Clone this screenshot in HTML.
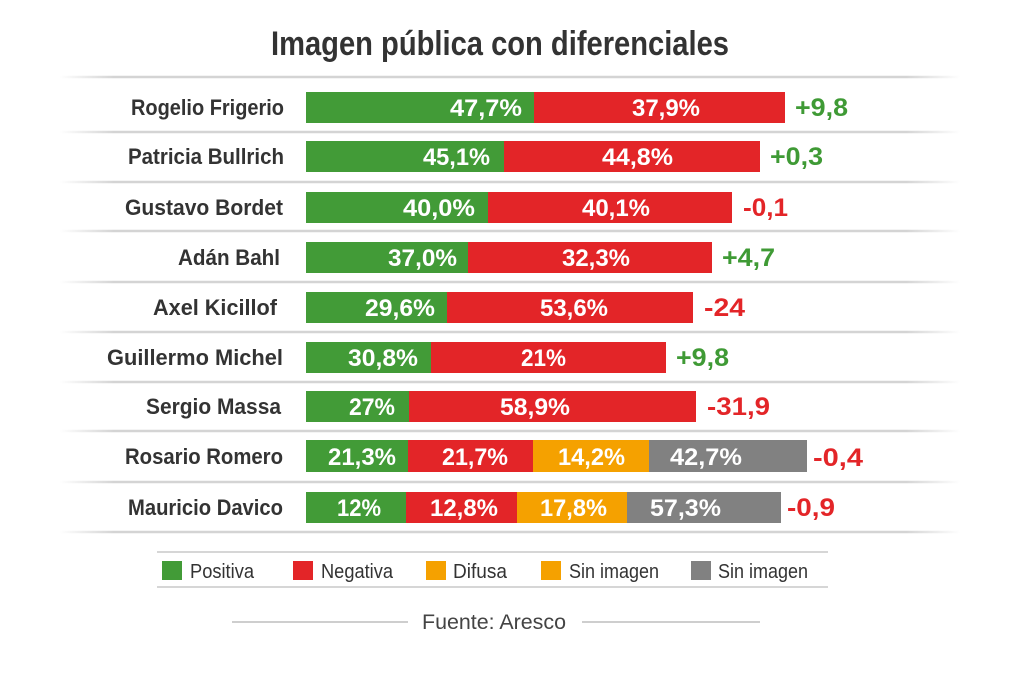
<!DOCTYPE html>
<html>
<head>
<meta charset="utf-8">
<style>
html,body{margin:0;padding:0;background:#ffffff;}
svg{display:block;}
text{font-family:"Liberation Sans",sans-serif;}
</style>
</head>
<body>
<svg width="1024" height="683" viewBox="0 0 1024 683" xmlns="http://www.w3.org/2000/svg">
<defs>
<linearGradient id="sep" x1="60" y1="0" x2="960" y2="0" gradientUnits="userSpaceOnUse">
<stop offset="0" stop-color="#d4d4d4" stop-opacity="0"/>
<stop offset="0.06" stop-color="#d4d4d4" stop-opacity="1"/>
<stop offset="0.94" stop-color="#d4d4d4" stop-opacity="1"/>
<stop offset="1" stop-color="#d4d4d4" stop-opacity="0"/>
</linearGradient>
</defs>
<rect width="1024" height="683" fill="#ffffff"/>

<!-- Title -->
<text x="271" y="55" font-size="34" font-weight="bold" fill="#333333" textLength="458" lengthAdjust="spacingAndGlyphs">Imagen pública con diferenciales</text>

<!-- Separators -->
<g stroke="url(#sep)" stroke-width="2.5">
<line x1="60" y1="77" x2="960" y2="77"/>
<line x1="60" y1="132" x2="960" y2="132"/>
<line x1="60" y1="182" x2="960" y2="182"/>
<line x1="60" y1="231" x2="960" y2="231"/>
<line x1="60" y1="282" x2="960" y2="282"/>
<line x1="60" y1="332" x2="960" y2="332"/>
<line x1="60" y1="382" x2="960" y2="382"/>
<line x1="60" y1="431" x2="960" y2="431"/>
<line x1="60" y1="482" x2="960" y2="482"/>
<line x1="60" y1="532" x2="960" y2="532"/>
</g>

<!-- Names -->
<g font-size="22" font-weight="bold" fill="#333333" text-anchor="end">
<text x="284" y="115" textLength="153" lengthAdjust="spacingAndGlyphs">Rogelio Frigerio</text>
<text x="284" y="164" textLength="156" lengthAdjust="spacingAndGlyphs">Patricia Bullrich</text>
<text x="283" y="215" textLength="158" lengthAdjust="spacingAndGlyphs">Gustavo Bordet</text>
<text x="280" y="265" textLength="102" lengthAdjust="spacingAndGlyphs">Adán Bahl</text>
<text x="277" y="315" textLength="124" lengthAdjust="spacingAndGlyphs">Axel Kicillof</text>
<text x="283" y="365" textLength="176" lengthAdjust="spacingAndGlyphs">Guillermo Michel</text>
<text x="281" y="414" textLength="135" lengthAdjust="spacingAndGlyphs">Sergio Massa</text>
<text x="283" y="464" textLength="158" lengthAdjust="spacingAndGlyphs">Rosario Romero</text>
<text x="283" y="515" textLength="155" lengthAdjust="spacingAndGlyphs">Mauricio Davico</text>
</g>

<!-- Bars -->
<g>
<rect x="306" y="92" width="228" height="31" fill="#429b37"/>
<rect x="534" y="92" width="251" height="31" fill="#e32528"/>

<rect x="306" y="141" width="198" height="31" fill="#429b37"/>
<rect x="504" y="141" width="256" height="31" fill="#e32528"/>

<rect x="306" y="192" width="182" height="31" fill="#429b37"/>
<rect x="488" y="192" width="244" height="31" fill="#e32528"/>

<rect x="306" y="242" width="162" height="31" fill="#429b37"/>
<rect x="468" y="242" width="244" height="31" fill="#e32528"/>

<rect x="306" y="292" width="141" height="31" fill="#429b37"/>
<rect x="447" y="292" width="246" height="31" fill="#e32528"/>

<rect x="306" y="342" width="125" height="31" fill="#429b37"/>
<rect x="431" y="342" width="235" height="31" fill="#e32528"/>

<rect x="306" y="391" width="103" height="31" fill="#429b37"/>
<rect x="409" y="391" width="287" height="31" fill="#e32528"/>

<rect x="306" y="440" width="102" height="32" fill="#429b37"/>
<rect x="408" y="440" width="125" height="32" fill="#e32528"/>
<rect x="533" y="440" width="116" height="32" fill="#f5a100"/>
<rect x="649" y="440" width="158" height="32" fill="#818181"/>

<rect x="306" y="492" width="100" height="31" fill="#429b37"/>
<rect x="406" y="492" width="111" height="31" fill="#e32528"/>
<rect x="517" y="492" width="110" height="31" fill="#f5a100"/>
<rect x="627" y="492" width="154" height="31" fill="#818181"/>
</g>

<!-- Bar values -->
<g font-size="24" font-weight="bold" fill="#ffffff">
<text x="450" y="116" textLength="72" lengthAdjust="spacingAndGlyphs">47,7%</text>
<text x="632" y="116" textLength="68" lengthAdjust="spacingAndGlyphs">37,9%</text>

<text x="423" y="165" textLength="67" lengthAdjust="spacingAndGlyphs">45,1%</text>
<text x="602" y="165" textLength="71" lengthAdjust="spacingAndGlyphs">44,8%</text>

<text x="403" y="216" textLength="72" lengthAdjust="spacingAndGlyphs">40,0%</text>
<text x="582" y="216" textLength="68" lengthAdjust="spacingAndGlyphs">40,1%</text>

<text x="388" y="266" textLength="69" lengthAdjust="spacingAndGlyphs">37,0%</text>
<text x="562" y="266" textLength="68" lengthAdjust="spacingAndGlyphs">32,3%</text>

<text x="365" y="316" textLength="70" lengthAdjust="spacingAndGlyphs">29,6%</text>
<text x="540" y="316" textLength="68" lengthAdjust="spacingAndGlyphs">53,6%</text>

<text x="348" y="366" textLength="70" lengthAdjust="spacingAndGlyphs">30,8%</text>
<text x="521" y="366" textLength="45" lengthAdjust="spacingAndGlyphs">21%</text>

<text x="349" y="415" textLength="46" lengthAdjust="spacingAndGlyphs">27%</text>
<text x="500" y="415" textLength="70" lengthAdjust="spacingAndGlyphs">58,9%</text>

<text x="328" y="465" textLength="68" lengthAdjust="spacingAndGlyphs">21,3%</text>
<text x="442" y="465" textLength="66" lengthAdjust="spacingAndGlyphs">21,7%</text>
<text x="558" y="465" textLength="67" lengthAdjust="spacingAndGlyphs">14,2%</text>
<text x="670" y="465" textLength="72" lengthAdjust="spacingAndGlyphs">42,7%</text>

<text x="337" y="516" textLength="44" lengthAdjust="spacingAndGlyphs">12%</text>
<text x="430" y="516" textLength="68" lengthAdjust="spacingAndGlyphs">12,8%</text>
<text x="540" y="516" textLength="67" lengthAdjust="spacingAndGlyphs">17,8%</text>
<text x="650" y="516" textLength="71" lengthAdjust="spacingAndGlyphs">57,3%</text>
</g>

<!-- Differentials -->
<g font-size="25" font-weight="bold">
<text x="795" y="116" fill="#3f9a35" textLength="53" lengthAdjust="spacingAndGlyphs">+9,8</text>
<text x="770" y="165" fill="#3f9a35" textLength="53" lengthAdjust="spacingAndGlyphs">+0,3</text>
<text x="743" y="216" fill="#e32528" textLength="45" lengthAdjust="spacingAndGlyphs">-0,1</text>
<text x="722" y="266" fill="#3f9a35" textLength="53" lengthAdjust="spacingAndGlyphs">+4,7</text>
<text x="704" y="316" fill="#e32528" textLength="41" lengthAdjust="spacingAndGlyphs">-24</text>
<text x="676" y="366" fill="#3f9a35" textLength="53" lengthAdjust="spacingAndGlyphs">+9,8</text>
<text x="707" y="415" fill="#e32528" textLength="63" lengthAdjust="spacingAndGlyphs">-31,9</text>
<text x="813" y="466" fill="#e32528" textLength="50" lengthAdjust="spacingAndGlyphs">-0,4</text>
<text x="787" y="516" fill="#e32528" textLength="48" lengthAdjust="spacingAndGlyphs">-0,9</text>
</g>

<!-- Legend -->
<g stroke="#d6d6d6" stroke-width="2">
<line x1="157" y1="552" x2="828" y2="552"/>
<line x1="157" y1="587" x2="828" y2="587"/>
</g>
<rect x="162" y="561" width="20" height="19" fill="#429b37"/>
<rect x="293" y="561" width="20" height="19" fill="#e32528"/>
<rect x="426" y="561" width="20" height="19" fill="#f5a100"/>
<rect x="541" y="561" width="20" height="19" fill="#f5a100"/>
<rect x="691" y="561" width="20" height="19" fill="#818181"/>
<g font-size="20" fill="#333333">
<text x="190" y="578" textLength="64" lengthAdjust="spacingAndGlyphs">Positiva</text>
<text x="321" y="578" textLength="72" lengthAdjust="spacingAndGlyphs">Negativa</text>
<text x="453" y="578" textLength="54" lengthAdjust="spacingAndGlyphs">Difusa</text>
<text x="569" y="578" textLength="90" lengthAdjust="spacingAndGlyphs">Sin imagen</text>
<text x="718" y="578" textLength="90" lengthAdjust="spacingAndGlyphs">Sin imagen</text>
</g>

<!-- Source -->
<g stroke="#bdbdbd" stroke-width="1.5">
<line x1="232" y1="622" x2="408" y2="622"/>
<line x1="582" y1="622" x2="760" y2="622"/>
</g>
<text x="422" y="629" font-size="21" fill="#444444" textLength="144" lengthAdjust="spacingAndGlyphs">Fuente: Aresco</text>
</svg>
</body>
</html>
